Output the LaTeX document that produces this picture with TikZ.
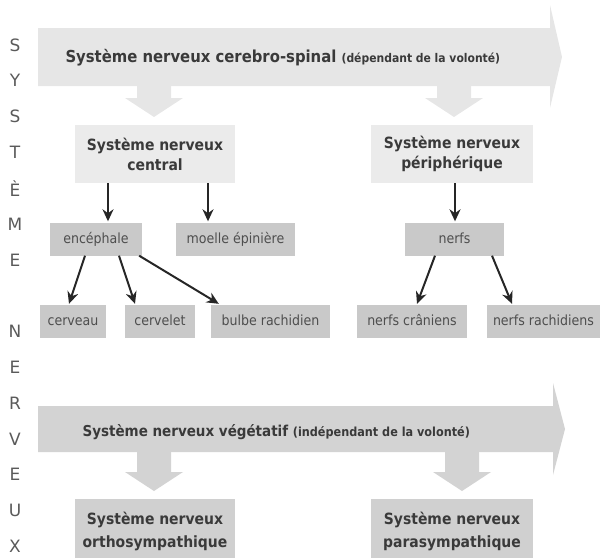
\documentclass[tikz,border=0pt]{standalone}
\usepackage{fontspec}
\setmainfont{DejaVu Sans Condensed}
\newfontfamily\letterfont{DejaVu Sans}
\usetikzlibrary{arrows.meta}
\definecolor{lightbar}{HTML}{E6E6E6}
\definecolor{paleg}{HTML}{EBEBEB}
\definecolor{midg}{HTML}{C9C9C9}
\definecolor{darkbar}{HTML}{D3D3D3}
\definecolor{botbox}{HTML}{D0D0D0}
\definecolor{textg}{HTML}{3A3A3A}
\definecolor{letterg}{HTML}{5A5A5A}
% block arrow pointing down: x, top, head base, tip, colour
\newcommand{\blockdown}[5]{%
  \fill[#5] ({#1-17},#2) -- ({#1+17},#2) -- ({#1+17},#3) -- ({#1+29},#3)
    -- (#1,#4) -- ({#1-29},#3) -- ({#1-17},#3) -- cycle;}

\begin{document}
\begin{tikzpicture}[x=1pt,y=-1pt,
  bigbox/.style={fill=paleg,minimum width=160pt,minimum height=58pt,align=center,
    text=textg,font=\bfseries\fontsize{15.5}{20}\selectfont},
  lowbox/.style={bigbox,fill=botbox,minimum height=64pt,font=\bfseries\fontsize{15.5}{23}\selectfont},
  smallbox/.style={fill=midg,minimum height=33pt,inner xsep=0pt,text height=11pt,text depth=3pt,
    text=textg!90,font=\fontsize{14}{16}\selectfont},
  letter/.style={text=letterg,font=\letterfont\fontsize{17}{17}\selectfont},
  arr/.style={-{Stealth[length=12pt,width=11pt]},line width=2pt,black!85}]
  \clip (0,0) rectangle (601,557);

  % left column
  \foreach \ltr/\i in {S/0,Y/1,S/2,T/3,È/4,M/5,E/6,N/8,E/9,R/10,V/11,E/12,U/13,X/14}
    \node[letter] (sn\i) at (15,{45+35.8*\i}) {\ltr};

  % cerebro-spinal
  \fill[lightbar] (38,28) -- (550,28) -- (550,5) -- (562,57) -- (550,108) -- (550,86) -- (38,86) -- cycle;
  \node[anchor=west,text=textg,font=\bfseries\fontsize{16.5}{18}\selectfont] (spinal) at (62,58)
    {Système nerveux cerebro-spinal {\fontsize{12}{13}\selectfont (dépendant de la volonté)}};
  \blockdown{154}{85}{98}{117}{lightbar}
  \blockdown{454}{85}{98}{117}{lightbar}

  \node[bigbox] (central) at (155,154) {Système nerveux\\central};
  \node[bigbox,minimum width=162pt] (periph) at (452,154) {Système nerveux\\périphérique};

  \node[smallbox,minimum width=92pt] (enc) at (96,239) {encéphale};
  \node[smallbox,minimum width=119pt] (moelle) at (235.5,239) {moelle épinière};
  \node[smallbox,minimum width=99pt] (nerfs) at (454.5,239) {nerfs};

  \node[smallbox,minimum width=66pt] (cerveau) at (73,321.5) {cerveau};
  \node[smallbox,minimum width=70pt] (cervelet) at (160,321.5) {cervelet};
  \node[smallbox,minimum width=119pt] (bulbe) at (270.5,321.5) {bulbe rachidien};
  \node[smallbox,minimum width=110pt] (craniens) at (412,321.5) {nerfs crâniens};
  \node[smallbox,minimum width=113pt] (rachidiens) at (543.5,321.5) {nerfs rachidiens};

  \draw[arr] ([xshift=12pt]enc.north |- central.south) -- ([xshift=12pt,yshift=1pt]enc.north);
  \draw[arr] ([xshift=-27.5pt]moelle.north |- central.south) -- ([xshift=-27.5pt,yshift=1pt]moelle.north);
  \draw[arr] ([xshift=0.5pt]nerfs.north |- periph.south) -- ([xshift=0.5pt,yshift=1pt]nerfs.north);

  \draw[arr] ([xshift=-11pt]enc.south) -- ([xshift=-4pt,yshift=1pt]cerveau.north);
  \draw[arr] ([xshift=23pt]enc.south) -- ([xshift=-25pt,yshift=1pt]cervelet.north);
  \draw[arr] ([xshift=-3pt]enc.south east) -- ([xshift=8pt,yshift=1pt]bulbe.north west);
  \draw[arr] ([xshift=-19.5pt]nerfs.south) -- ([xshift=5pt,yshift=1pt]craniens.north);
  \draw[arr] ([xshift=37.5pt]nerfs.south) -- ([xshift=-31.5pt,yshift=1pt]rachidiens.north);

  % vegetatif
  \fill[darkbar] (38,406) -- (553,406) -- (553,383) -- (565,429) -- (553,475) -- (553,452) -- (38,452) -- cycle;
  \node[anchor=west,text=textg,font=\bfseries\fontsize{15}{18}\selectfont] (vegetatif) at (79,432)
    {Système nerveux végétatif {\fontsize{12.5}{13}\selectfont (indépendant de la volonté)}};
  \blockdown{154}{451}{472}{491}{darkbar}
  \blockdown{462}{451}{472}{491}{darkbar}

  \node[lowbox] (ortho) at (155,531) {Système nerveux\\orthosympathique};
  \node[lowbox,minimum width=162pt] (para) at (452,531) {Système nerveux\\parasympathique};
\end{tikzpicture}
\end{document}
